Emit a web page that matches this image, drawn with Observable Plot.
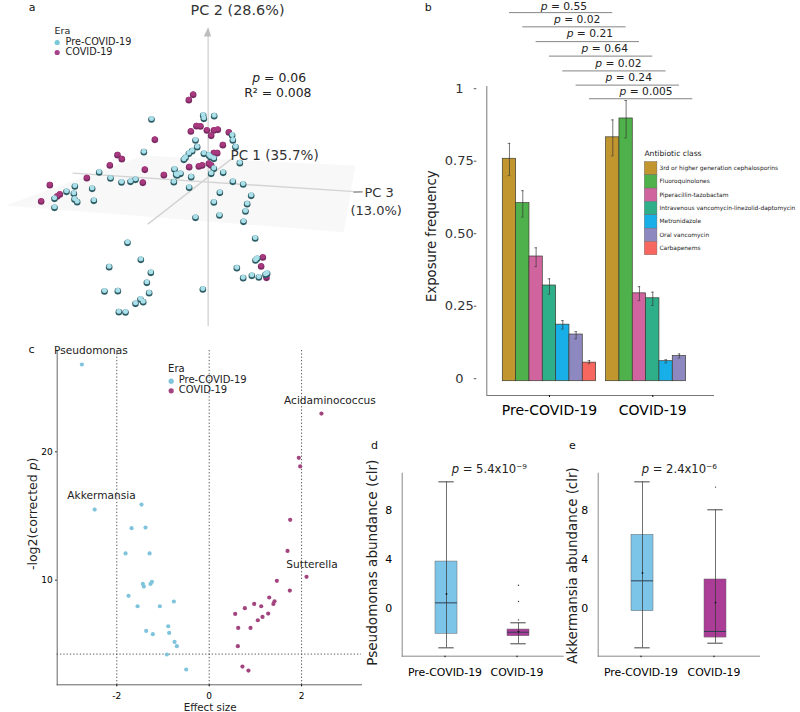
<!DOCTYPE html>
<html><head><meta charset="utf-8">
<script src="https://cdn.jsdelivr.net/npm/d3@7"></script>
<script src="https://cdn.jsdelivr.net/npm/@observablehq/plot@0.6"></script>
<style>
html,body{margin:0;padding:0;background:#fff;}
#root{position:relative;width:800px;height:712px;overflow:hidden;font-family:"DejaVu Sans";}
#root svg{position:absolute;overflow:visible;background:transparent;}
</style></head><body><div id="root"></div>
<script>
const FONT = "DejaVu Sans";
const eras = ["Pre-COVID-19", "COVID-19"];

// Panel a: ordination points, as projected on the page
const ordPreX = [453,608,610,641,430,296,330,363,390,405,223,198,220,162,275,222,230,280,162,520,522,527,540,530,572,566,585,590,575,565,555,550,625,630,640,632,668,640,697,728,752,740,735,729,718,658,640,657,585,695,697,705,764,770,765,709,728,754,775,795,381,421,326,451,439,312,352,446,607,420,405,428,355,375,800,610];
const ordPreY = [357,345,355,347,455,516,534,546,544,538,558,574,580,595,565,597,605,601,622,545,507,523,520,525,530,562,420,440,452,460,472,478,465,470,475,520,517,505,544,552,586,611,633,664,488,577,606,645,652,405,420,440,714,775,780,803,833,826,831,823,727,778,800,817,847,873,872,878,867,897,910,905,935,936,820,460];
const ordCovX = [578,565,463,351,364,328,433,490,259,427,148,178,170,122,571,588,600,619,632,652,640,685,667,640,650,566,595,605,625,632,787,782,798];
const ordCovY = [283,299,418,464,476,495,508,524,533,547,554,582,588,603,393,377,378,390,406,388,390,396,434,458,458,500,498,495,490,495,771,798,832];
const planeX = [15,430,1065,1030,15];
const planeY = [615,465,495,695,615];
const pcAxisX = [[623,623],[218,1085],[443,700]];
const pcAxisY = [[975,100],[518,575],[670,470]];

// Panel b: exposure frequency
const classes = ["3rd or higher generation cephalosporins","Fluoroquinolones","Piperacillin-tazobactam","Intravenous vancomycin-linezolid-daptomycin","Metronidazole","Oral vancomycin","Carbapenems"];
const classColors = ["#c2962f","#4fb14b","#d0649f","#2fae8a","#18aee8","#8e88c0","#f7675f"];
const freqPre = [0.767,0.614,0.43,0.33,0.195,0.161,0.064];
const lowPre = [0.709,0.566,0.395,0.30,0.18,0.146,0.06];
const highPre = [0.82,0.657,0.46,0.353,0.209,0.171,0.071];
const freqCov = [0.841,0.906,0.303,0.286,0.069,0.087,0];
const lowCov = [0.777,0.839,0.278,0.261,0.063,0.08,null];
const highCov = [0.901,0.968,0.326,0.307,0.074,0.094,null];
const pClass = ["0.55","0.02","0.21","0.64","0.02","0.24","0.005"];
const pLineY = [1.271,1.222,1.171,1.121,1.07,1.021,0.974];
const pTextX = [4.58,5.58,6.53,7.65,8.67,9.45,10.75];
const pTextY = [1.293,1.248,1.198,1.147,1.097,1.047,0.999];

// Panel c: effect sizes
const volPreX = [-2.756,-2.48,-1.465,-1.68,-1.378,-1.81,-1.29,-1.436,-1.414,-1.24,-1.27,-1.746,-1.55,-1.068,-0.765,-0.887,-0.866,-1.364,-1.22,-0.75,-0.70,-0.916,-0.498];
const volPreY = [26.88,15.58,15.97,14.13,14.18,12.16,12.16,9.79,9.58,9.95,9.79,8.86,8.05,8.05,8.42,6.49,5.97,6.13,5.87,5.27,4.94,4.29,3.12];
const volCovX = [2.43,1.94,1.97,1.753,1.696,2.107,1.465,1.746,1.30,1.414,1.39,0.974,0.772,1.126,0.563,1.277,1.154,1.053,0.628,0.895,0.62,0.72,0.85];
const volCovY = [23.06,19.61,18.94,14.78,12.36,10.34,10.03,9.27,8.73,8.44,8.23,8.23,7.9,8.05,7.45,7.48,7.22,6.96,6.36,6.36,4.94,3.35,3.04];
const taxaLabels = ["Pseudomonas","Akkermansia","Acidaminococcus","Sutterella"];
const taxaX = [-3.36,-3.07,1.62,1.67];
const taxaY = [27.94,16.65,24.04,11.32];

// Panels d, e: box summaries [Pre-COVID-19, COVID-19]
const pseudoBox = {q1:[-1.885,-2.08],q3:[4.04,-1.53],med:[0.656,-1.75],mean:[1.39,-1.7],lo:[-3.03,-2.7],hi:[10.57,-0.98]};
const pseudoOut = [2.1,0.77,-0.74];
const akkerBox = {q1:[-0.03,-2.19],q3:[6.23,2.57],med:[2.46,-1.69],mean:[3.11,0.68],lo:[-3.03,-2.65],hi:[10.57,8.28]};
const akkerOut = [10.14];

const preCol = "#7fc8de", covCol = "#a6418a";
const root = document.getElementById("root");
function italicP(svg){
  d3.select(svg).selectAll("text").each(function(){
    const t = this.textContent;
    const m = t.match(/^(.*?)(\bp)( = .*|\).*)$/);
    if(!m || this.querySelector("tspan")) return;
    const el = d3.select(this).text(null);
    if(m[1]) el.append("tspan").text(m[1]);
    el.append("tspan").attr("font-style","italic").text(m[2]);
    el.append("tspan").text(m[3]);
  });
}
function place(p,left,top){
  p.style.left = left+"px"; p.style.top = top+"px";
  italicP(p);
  root.appendChild(p);
}
const lab = (arr,o)=>Plot.text(arr,o);

// ---------- Panel a
const seg = pcAxisX.flatMap((xs,i)=>xs.map((x,j)=>({x,y:pcAxisY[i][j],i})));
const spheres = (xs,ys,dark,light)=>{
  const pts = xs.map((x,i)=>({x,y:ys[i]}));
  return [
    Plot.dot(pts,{x:"x",y:"y",r:3.3,fill:dark}),
    Plot.dot(pts,{x:"x",y:"y",r:2.5,dy:-1,fill:light})
  ];
};
place(Plot.plot({
  width:420,height:340,margin:0,
  x:{domain:[0,1260],axis:null},y:{domain:[1020,0],axis:null},
  style:{fontFamily:FONT,background:"transparent"},
  marks:[
    Plot.line(planeX.map((x,i)=>({x,y:planeY[i]})),{x:"x",y:"y",fill:"#f8f8f8",stroke:"none"}),
    Plot.line(seg,{x:"x",y:"y",z:"i",stroke:"#d4d4d4",strokeWidth:1.4}),
    Plot.line([{x:610,y:108},{x:632,y:108},{x:623,y:80},{x:610,y:108}],{x:"x",y:"y",fill:"#bdbdbd",stroke:"none"}),
    Plot.line([{x:1060,y:575},{x:1085,y:574}],{x:"x",y:"y",stroke:"#777",strokeWidth:1}),
    ...spheres(ordCovX,ordCovY,"#7a2a63","#a8397f"),
    ...spheres(ordPreX,ordPreY,"#2c5b63","#a9e0ea"),
    lab(["a"],{x:95,y:20,fontSize:11,fill:"#111"}),
    lab(["Era"],{x:162,y:91,fontSize:9.5,textAnchor:"start",fill:"#222"}),
    Plot.dot([{x:170,y:126}],{x:"x",y:"y",r:2.6,fill:"#7ac8d8"}),
    Plot.dot([{x:170,y:156}],{x:"x",y:"y",r:2.6,fill:covCol}),
    lab([eras[0]],{x:195,y:123,fontSize:9.7,textAnchor:"start",fill:"#222"}),
    lab([eras[1]],{x:195,y:155,fontSize:9.7,textAnchor:"start",fill:"#222"}),
    lab(["PC 2 (28.6%)"],{x:711,y:30,fontSize:14.4,fill:"#333"}),
    lab(["PC 1 (35.7%)"],{x:690,y:467,fontSize:13.5,textAnchor:"start",fill:"#333"}),
    lab(["PC 3"],{x:1092,y:578,fontSize:13,textAnchor:"start",fill:"#333"}),
    lab(["(13.0%)"],{x:1050,y:630,fontSize:13,textAnchor:"start",fill:"#333"}),
    lab(["p = 0.06"],{x:836,y:233,fontSize:12.4,fill:"#222"}),
    lab(["R² = 0.008"],{x:832,y:277,fontSize:12.4,fill:"#222"})
  ]
}),0,0);

// ---------- Panel b
const covStart = 7.75;
const bars = [
  ...classes.map((c,i)=>({c,i,x1:i,x2:i+1,v:freqPre[i],lo:lowPre[i],hi:highPre[i]})),
  ...classes.map((c,i)=>({c,i,x1:covStart+i,x2:covStart+i+1,v:freqCov[i],lo:lowCov[i],hi:highCov[i]}))
];
const errs = bars.filter(d=>d.lo!=null);
const capW = 0.1;
const legendTop = 0.756, legendStep = 40/870;
const legendRows = classes.map((c,i)=>({c,i}));
const axisLineB = "#777";
place(Plot.plot({
  width:390,height:430,marginLeft:76.3,marginRight:86,marginTop:0,marginBottom:35,
  x:{domain:[-1.2,15.88],axis:null},
  y:{domain:[-0.0493,1.3128]},
  color:{domain:classes,range:classColors},
  style:{fontFamily:FONT,background:"transparent"},
  marks:[
    Plot.ruleX([-1.2],{y1:-0.0493,y2:1.016,stroke:axisLineB}),
    Plot.ruleY([-0.0493],{x1:-1.2,x2:15.88,stroke:axisLineB}),
    Plot.axisY({label:null,ticks:[0,0.25,0.5,0.75,1],tickFormat:d=>d===0||d===1?String(d):d.toFixed(2),tickSize:2.5,tickPadding:15,textAnchor:"middle",dy:-2.5,dx:-10,fontSize:13,stroke:"#555",color:"#333"}),
    Plot.axisX({label:null,ticks:[3.5,covStart+3.5],tickFormat:d=>d<5?eras[0]:eras[1],tickSize:2,tickPadding:8,fontSize:14,anchor:"bottom"}),
    Plot.rect(bars,{x1:"x1",x2:"x2",y1:0,y2:"v",fill:"c",stroke:"#3b3b2f",strokeWidth:0.7}),
    Plot.ruleX(errs,{x:d=>(d.x1+d.x2)/2,y1:"lo",y2:"hi",stroke:"#333",strokeOpacity:0.75,strokeWidth:0.9}),
    Plot.ruleY(errs,{y:"lo",x1:d=>(d.x1+d.x2)/2-capW,x2:d=>(d.x1+d.x2)/2+capW,stroke:"#333",strokeOpacity:0.75,strokeWidth:0.8}),
    Plot.ruleY(errs,{y:"hi",x1:d=>(d.x1+d.x2)/2-capW,x2:d=>(d.x1+d.x2)/2+capW,stroke:"#333",strokeOpacity:0.75,strokeWidth:0.8}),
    Plot.ruleY(pClass,{y:(d,i)=>pLineY[i],x1:(d,i)=>i+0.5,x2:(d,i)=>covStart+i+0.5,stroke:"#777",strokeWidth:0.9}),
    Plot.text(pClass,{x:(d,i)=>pTextX[i],y:(d,i)=>pTextY[i],text:d=>"p = "+d,fontSize:10.7,fill:"#222"}),
    lab(["b"],{x:-5.6,y:1.29,fontSize:11,fill:"#111"}),
    lab(["Exposure frequency"],{x:-5.3,y:0.5,rotate:-90,fontSize:13.2,fill:"#222"}),
    lab(["Antibiotic class"],{x:10.62,y:0.786,fontSize:7.6,fontWeight:500,textAnchor:"start",fill:"#222"}),
    Plot.rect(legendRows,{x1:10.65,x2:11.6,y1:d=>legendTop-d.i*legendStep,y2:d=>legendTop-(d.i+1)*legendStep,fill:"c",stroke:"#666",strokeWidth:0.4}),
    Plot.text(legendRows,{x:11.75,y:d=>legendTop-0.021-d.i*legendStep,text:"c",fontSize:5.9,fontWeight:500,textAnchor:"start",fill:"#222"})
  ]
}),410,0);

// ---------- Panel c
const volc = [
  ...volPreX.map((x,i)=>({x,y:volPreY[i],e:eras[0]})),
  ...volCovX.map((x,i)=>({x,y:volCovY[i],e:eras[1]}))
];
const sigLine = -Math.log2(0.05);
place(Plot.plot({
  width:370,height:372,marginLeft:56.7,marginRight:9,marginTop:10,marginBottom:27.7,
  x:{domain:[-3.29,3.297]},y:{domain:[1.93,27.97]},
  color:{domain:eras,range:["#7fc4dc","#a3447f"]},
  style:{fontFamily:FONT,background:"transparent"},
  marks:[
    Plot.frame({anchor:"left",stroke:"#666"}),
    Plot.frame({anchor:"bottom",stroke:"#666"}),
    Plot.axisX({label:null,ticks:[-2,0,2],tickFormat:d=>String(d),tickSize:2,tickPadding:6,fontSize:9,anchor:"bottom"}),
    Plot.axisY({label:null,ticks:[10,20],tickFormat:d=>String(d),tickSize:1.5,tickPadding:3,fontSize:9,dy:-1,anchor:"left"}),
    Plot.ruleX([-2,0,2],{stroke:"#444",strokeDasharray:"1.3 2",strokeWidth:0.9}),
    Plot.ruleY([sigLine],{stroke:"#444",strokeDasharray:"1.3 2",strokeWidth:0.9}),
    Plot.dot(volc,{x:"x",y:"y",r:2.1,fill:"e"}),
    Plot.text(taxaLabels,{x:(d,i)=>taxaX[i],y:(d,i)=>taxaY[i],text:d=>d,fontSize:10.6,textAnchor:"start",fill:"#222"}),
    lab(["c"],{x:-3.846,y:28.04,fontSize:11,fill:"#111"}),
    lab(["-log2(corrected p)"],{x:-3.82,y:15.25,rotate:-90,fontSize:12.5,fill:"#222"}),
    lab(["Effect size"],{x:0.02,y:0.12,fontSize:10.3,fill:"#222"}),
    lab(["Era"],{x:-0.89,y:26.54,fontSize:10,textAnchor:"start",fill:"#222"}),
    Plot.dot([{x:-0.823,y:25.58}],{x:"x",y:"y",r:2.6,fill:"#7fc4dc"}),
    Plot.dot([{x:-0.823,y:24.83}],{x:"x",y:"y",r:2.6,fill:"#a3447f"}),
    lab([eras[0]],{x:-0.66,y:25.71,fontSize:10,textAnchor:"start",fill:"#222"}),
    lab([eras[1]],{x:-0.66,y:24.88,fontSize:10,textAnchor:"start",fill:"#222"})
  ]
}),0,340);

// ---------- Panels d, e
function boxPanel(box,outs,title,pText,letter,cfg){
  const rows = eras.map((e,i)=>({e,q1:box.q1[i],q3:box.q3[i],med:box.med[i],mean:box.mean[i],lo:box.lo[i],hi:box.hi[i]}));
  const out = outs.map(v=>({e:eras[1],v}));
  return Plot.plot({
    width:cfg.w,height:282,marginLeft:cfg.ml,marginRight:cfg.mr,marginTop:42.7,marginBottom:56.3,
    x:{type:"band",domain:eras,paddingInner:0.7,paddingOuter:0.4545},
    y:{domain:[-3.716,11.28]},
    color:{domain:eras,range:["#7cc5e8","#ab3d96"]},
    style:{fontFamily:FONT,background:"transparent"},
    marks:[
      Plot.frame({anchor:"left",stroke:"#888"}),
      Plot.frame({anchor:"bottom",stroke:"#888"}),
      Plot.axisX({label:null,tickSize:1.5,tickPadding:10.5,fontSize:10.9,dx:-1.5,anchor:"bottom"}),
      Plot.axisY({label:null,ticks:[0,4,8],tickFormat:d=>String(d),tickSize:0,tickPadding:10,dy:-2.7,fontSize:11,anchor:"left"}),
      Plot.barY(rows,{x:"e",y1:"q1",y2:"q3",fill:"e",stroke:"#666",strokeWidth:0.5}),
      Plot.tickY(rows,{x:"e",y:"med",stroke:"#2f3f55",strokeWidth:1}),
      Plot.ruleX(rows,{x:"e",y1:"lo",y2:"hi",stroke:"#333",strokeOpacity:0.7,strokeWidth:1}),
      Plot.tickY(rows,{x:"e",y:"lo",stroke:"#444",insetLeft:3.3,insetRight:3.3,strokeWidth:1}),
      Plot.tickY(rows,{x:"e",y:"hi",stroke:"#444",insetLeft:3.3,insetRight:3.3,strokeWidth:1}),
      Plot.dot(rows,{x:"e",y:"mean",r:0.9,fill:"#111"}),
      Plot.dot(out,{x:"e",y:"v",r:0.7,fill:"#333"}),
      Plot.text([title],{frameAnchor:"left",textAnchor:"middle",dx:cfg.tx,dy:cfg.ty,rotate:-90,fontSize:cfg.fs,fill:"#222"}),
      Plot.text([pText],{frameAnchor:"top",lineAnchor:"middle",dx:cfg.px,dy:-3.7,fontSize:11.6,fill:"#222"}),
      Plot.text([letter],{frameAnchor:"top-left",textAnchor:"middle",lineAnchor:"middle",dx:cfg.lx,dy:-27.7,fontSize:11,fill:"#111"})
    ]
  });
}
place(boxPanel(pseudoBox,pseudoOut,"Pseudomonas abundance (clr)","p = 5.4x10⁻⁹","d",{w:205,ml:41.7,mr:2.3,tx:-29.4,ty:-2,px:6.6,lx:-27.7,fs:13.6}),360,430);
place(boxPanel(akkerBox,akkerOut,"Akkermansia abundance (clr)","p = 2.4x10⁻⁶","e",{w:200,ml:37.7,mr:1,tx:-25,ty:0.8,px:0.4,lx:-25.7,fs:13.4}),560,430);
</script></body></html>
